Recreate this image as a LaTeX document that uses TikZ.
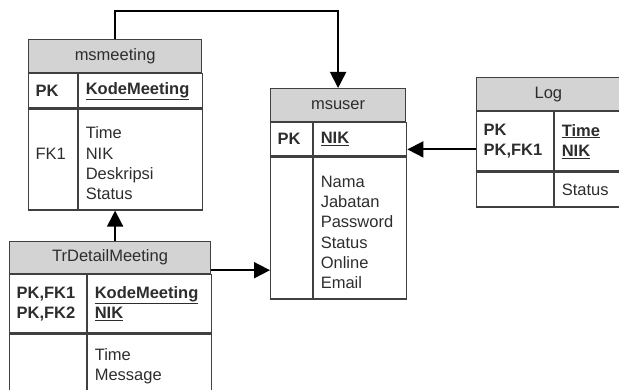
\documentclass[tikz,border=0pt]{standalone}
\usepackage{fontspec}
\setmainfont{Liberation Sans}
\usetikzlibrary{arrows.meta}
\definecolor{hdrgray}{RGB}{211,211,211}
\definecolor{boxline}{RGB}{64,64,64}
\definecolor{txt}{RGB}{45,45,45}
\newcommand{\erfont}{\fontsize{16.5}{20.3}\selectfont}

\begin{document}
\begin{tikzpicture}[x=1pt, y=-1pt,
    every node/.style={font=\erfont, text=txt},
    hdr/.style 2 args={draw=boxline, line width=1.2pt, fill=hdrgray,
      anchor=north west, inner sep=0pt, minimum width=#1pt, minimum height=#2pt},
    cell/.style 2 args={draw=boxline, line width=1.2pt, anchor=north west,
      inner xsep=7pt, inner ysep=0pt, align=left, text width=#1pt, minimum height=#2pt},
    bold/.style={font=\erfont\bfseries},
    lower/.style={execute at begin node={\rule{0pt}{20pt}}},
    conn/.style={line width=1.8pt, -{Triangle[width=16pt,length=16pt]}}] % ERD

  \useasboundingbox (0,0) rectangle (619,390);
  \clip (0,0) rectangle (619,390);

  % msmeeting
  \node [hdr={173}{33}] (mmhdr) at (28,39) {msmeeting};
  \node [cell={35}{34}, bold] (mmk1) at (mmhdr.south west) {PK};
  \node [cell={110}{34}, bold] (mmf1) at (mmk1.north east) {\underline{KodeMeeting}};
  \node [cell={35}{101}, lower] (mmk2) at (mmk1.south west) {~\\FK1\\~\\~};
  \node [cell={110}{101}, lower] (mmf2) at (mmk2.north east) {Time\\NIK\\Deskripsi\\Status};

  % TrDetailMeeting
  \node [hdr={201}{32}] (tdhdr) at (9,241) {TrDetailMeeting};
  \node [cell={63}{58}, bold] (tdk1) at (tdhdr.south west) {PK,FK1\\PK,FK2};
  \node [cell={110}{58}, bold] (tdf1) at (tdk1.north east) {\underline{KodeMeeting}\\\underline{NIK}};
  \node [cell={63}{57}] (tdk2) at (tdk1.south west) {};
  \node [cell={110}{57}, lower] (tdf2) at (tdk2.north east) {Time\\Message};

  % msuser
  \node [hdr={135}{33}] (mshdr) at (270,88) {msuser};
  \node [cell={28}{33}, bold] (msk1) at (mshdr.south west) {PK};
  \node [cell={79}{33}, bold] (msf1) at (msk1.north east) {\underline{NIK}};
  \node [cell={28}{142}] (msk2) at (msk1.south west) {};
  \node [cell={79}{142}, lower] (msf2) at (msk2.north east) {Nama\\Jabatan\\Password\\Status\\Online\\Email};

  % Log
  \node [hdr={164}{33}, text width=164pt, align=left] (lghdr) at (476,77) {\hspace*{58pt}Log};
  \node [cell={63}{59}, bold] (lgk1) at (lghdr.south west) {PK\\PK,FK1};
  \node [cell={73}{59}, bold] (lgf1) at (lgk1.north east) {\underline{Time}\\\underline{NIK}};
  \node [cell={63}{35}] (lgk2) at (lgk1.south west) {};
  \node [cell={73}{35}] (lgf2) at (lgk2.north east) {Status};

  % relations
  \coordinate (bend) at ([yshift=28pt]mmhdr.north);
  \draw [conn] (mmhdr.north) -- (bend) -| (mshdr.north);
  \draw [conn] (mmhdr.south |- tdhdr.north) -- (mmhdr.south |- mmf2.south);
  \coordinate (tdout) at ([yshift=4pt]tdhdr.south east);
  \draw [conn] (tdout) -- (tdout -| msk2.west);
  \coordinate (msin) at ([yshift=7pt]msf1.south east);
  \draw [conn] (msin -| lgk1.west) -- (msin);

\end{tikzpicture}
\end{document}
